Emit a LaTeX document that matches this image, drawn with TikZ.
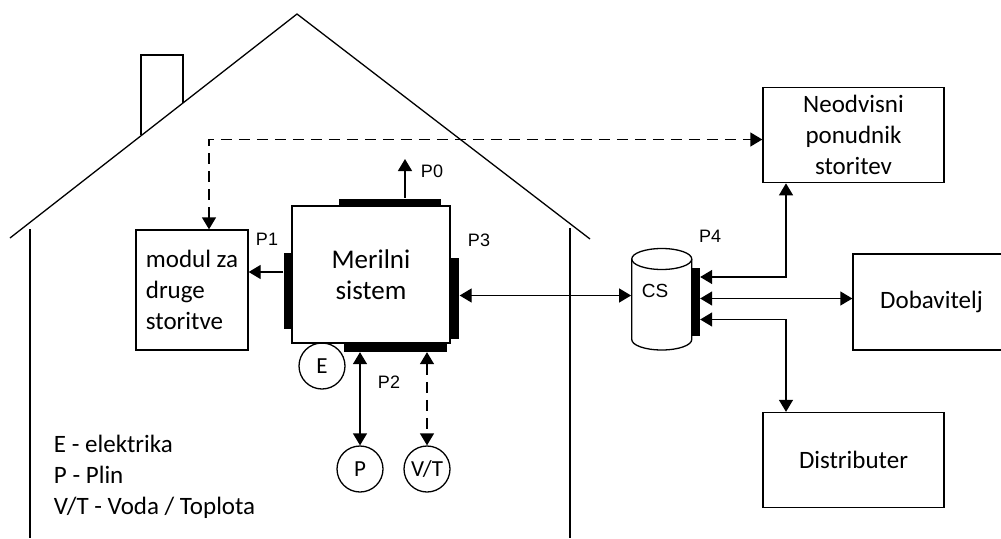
\documentclass[tikz,border=0pt]{standalone}
\usepackage{fontspec}
\setmainfont{Carlito}
\newfontfamily\portfont{Liberation Sans}
\usetikzlibrary{arrows.meta,calc}

\begin{document}
\begin{tikzpicture}[
    x=1pt, y=-1pt,
    line width=1.3pt,
    font=\fontsize{25}{31}\selectfont,
    box/.style={draw, rectangle, inner sep=0pt, align=center},
    port/.style={fill=black, draw=none, inner sep=0pt},
    portlabel/.style={font=\portfont\fontsize{18}{20}\selectfont},
    supply/.style={draw, circle, minimum size=46pt, inner sep=0pt,
                   font=\fontsize{23}{24}\selectfont},
    link/.style={{Triangle[length=12pt,width=14pt]}-{Triangle[length=12pt,width=14pt]}},
    oneway/.style={-{Triangle[length=12pt,width=14pt]}},
    dashline/.style={dash pattern=on 11pt off 7pt}
]
    \useasboundingbox (0,0) rectangle (1001,538);
    \clip (0,0) rectangle (1001,538);

    % house
    \draw (10,238) -- (297,14) -- (590,239);
    \draw (141,135) -- (141,55) -- (183,55) -- (183,103);
    \draw (30,229) -- (30,538);
    \draw (570,228) -- (570,538);

    % meter and its ports
    \node[box, minimum width=158pt, minimum height=137pt,
          font=\fontsize{27}{31}\selectfont] (meter) at (371,274.5) {Merilni\\sistem};
    \node[port, minimum width=102pt, minimum height=7pt] (p0) at (390,202) {};
    \node[port, minimum width=8pt, minimum height=76pt] (p1) at (288,290.5) {};
    \node[port, minimum width=9pt, minimum height=81pt] (p3) at (454.5,298.5) {};
    \node[port, minimum width=103pt, minimum height=8pt] (p2) at (395.5,347.5) {};

    \node[portlabel] (lp0) at (432,171) {P0};
    \node[portlabel] (lp1) at (267,239) {P1};
    \node[portlabel] (lp3) at (479,240) {P3};
    \node[portlabel] (lp2) at (389,382) {P2};

    \node[box, minimum width=112pt, minimum height=120pt, align=left] (modul) at (192,290)
        {modul za\\druge\\storitve};

    \node[supply] (el) at (322,366) {E};
    \node[supply] (gas) at (360,469) {P};
    \node[supply] (heat) at (427,469) {V/T};

    % central system (cylinder)
    \node[minimum width=60pt, minimum height=101pt, inner sep=0pt] (cs) at (661.75,299.25) {};
    \draw (661.75,259) ellipse [x radius=30, y radius=10.5];
    \draw (631.75,259) -- (631.75,339.5) arc [start angle=180, end angle=0,
          x radius=30, y radius=10.5] -- (691.75,259);
    \node[portlabel, font=\portfont\fontsize{19}{20}\selectfont] (lcs) at (655,291) {CS};
    \node[port, minimum width=8pt, minimum height=68pt] (p4) at (695.5,302) {};
    \node[portlabel] (lp4) at (710,236) {P4};

    \node[box, minimum width=181pt, minimum height=95pt] (neo) at (853.5,135.2)
        {Neodvisni\\ponudnik\\storitev};
    \node[box, minimum width=157pt, minimum height=96pt] (dob) at (931.5,302) {Dobavitelj};
    \node[box, minimum width=181pt, minimum height=95pt] (dist) at (853.5,460) {Distributer};

    \node[align=left, anchor=west, font=\fontsize{25}{31}\selectfont] (legend) at (50,477)
        {E - elektrika\\P - Plin\\V/T - Voda / Toplota};

    % connectors
    \coordinate (p0end) at (405,159);
    \coordinate (dv) at (209,139.5);
    \coordinate (bus) at (786,0);

    \draw[oneway] (p0.north -| p0end) -- (p0end);
    \draw[oneway] (p1.west |- 0,272) -- (modul.east |- 0,272);
    \draw[link] (p3.east |- 0,295.5) -- (cs.west |- 0,295.5);
    \draw[link] (p2.south -| gas) -- (gas.north);
    \draw[link, dashline] (p2.south -| heat) -- (heat.north);
    \draw[link, dashline] (dv |- modul.north) |- (neo.west |- dv);

    \draw[link] (p4.east |- 0,277) -| (neo.south -| bus);
    \draw[link] (p4.east |- 0,298.5) -- (dob.west |- 0,298.5);
    \draw[link] (p4.east |- 0,319.5) -| (dist.north -| bus);
\end{tikzpicture}
\end{document}
